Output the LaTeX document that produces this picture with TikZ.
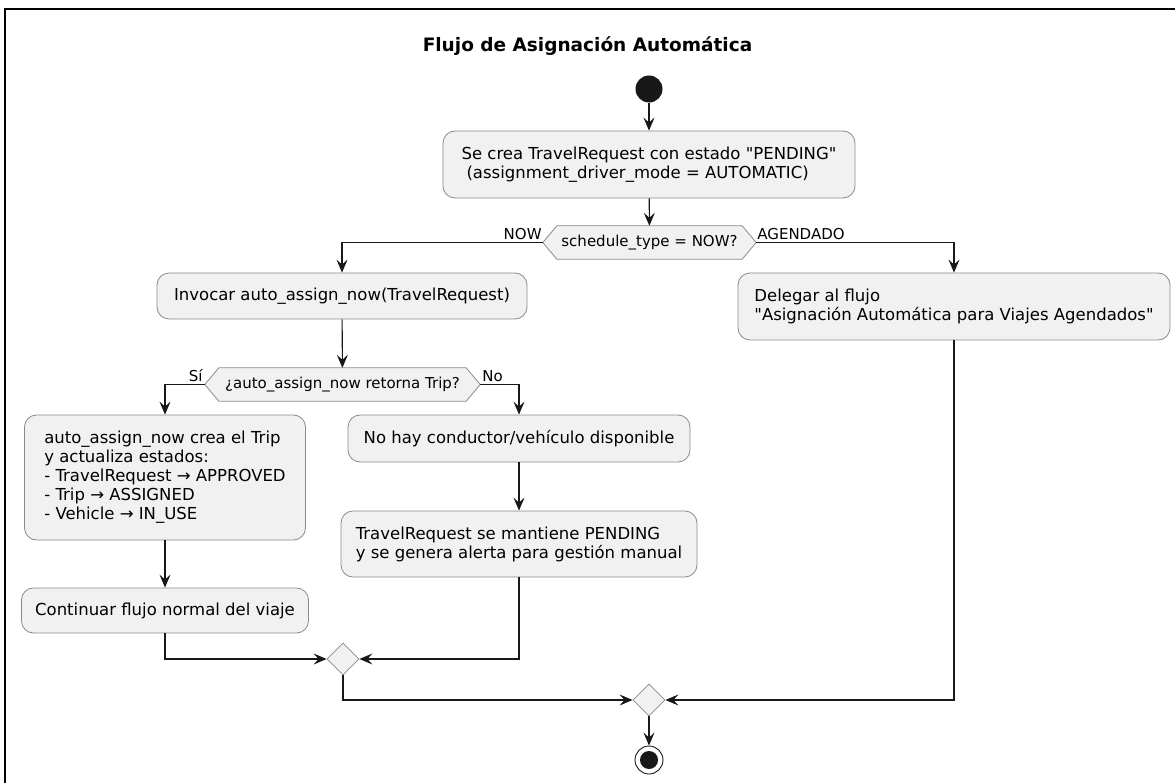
\documentclass[tikz,border=0pt]{standalone}
\usepackage{fontspec}
\setmainfont{DejaVu Sans}
\usetikzlibrary{arrows.meta,calc,shapes.geometric}
\pgfdeclarelayer{bg}
\pgfsetlayers{bg,main}
\definecolor{boxfill}{HTML}{F1F1F1}
\definecolor{ink}{HTML}{181818}
\definecolor{edge}{HTML}{8A8A8A}

\tikzset{
  act/.style={draw=edge, fill=boxfill, rounded corners=12pt, line width=0.8pt,
    align=left, inner sep=0pt, font=\fontsize{16.5}{19}\selectfont},
  dec/.style={inner sep=0pt, minimum height=33pt, font=\fontsize{15}{18}\selectfont},
  hexa/.style={draw=edge, fill=boxfill, line width=0.8pt},
  merge/.style={diamond, draw=edge, fill=boxfill, line width=0.8pt,
    minimum width=32pt, minimum height=32pt, inner sep=0pt},
  flow/.style={draw=ink, line width=1.1pt, -{Stealth[length=13pt,width=11pt,inset=5pt]}},
  lbl/.style={inner sep=0pt, font=\fontsize{15}{18}\selectfont},
  startdot/.style={circle, fill=ink, minimum size=27pt, inner sep=0pt},
  stopring/.style={circle, draw=ink, fill=white, line width=0.9pt, minimum size=28pt, inner sep=0pt},
  stopdot/.style={circle, fill=ink, minimum size=18pt, inner sep=0pt},
  frame/.style={draw=black, line width=2.5pt},
}

% hexagonal decision outline behind a decision text node
\newcommand{\decshape}[1]{%
  \coordinate (#1-l) at ($(#1.west)+(-14,0)$);
  \coordinate (#1-r) at ($(#1.east)+(14,0)$);
  \begin{pgfonlayer}{bg}
    \path[hexa] (#1-l) -- (#1.north west) -- (#1.north east) -- (#1-r)
      -- (#1.south east) -- (#1.south west) -- cycle;
  \end{pgfonlayer}}

\begin{document}
\begin{tikzpicture}[x=1pt,y=-1pt]
\useasboundingbox (0,0) rectangle (1175,783);
\begin{scope}
  \clip (0,0) rectangle (1175,783);
  \draw[frame] (5,800) -- (5,9) -- (1190,9);
\end{scope}

\node[font=\fontsize{18.5}{22}\selectfont\bfseries] (title) at (587.5,46) {Flujo de Asignación Automática};

\node[startdot] (start) at (649,89) {};

\node[act, minimum width=412pt, minimum height=67pt] (create) at (649,164.5)
  {Se crea TravelRequest con estado \textquotedbl PENDING\textquotedbl\\\hspace*{0.3em}(assignment\_driver\_mode = AUTOMATIC)};

\node[dec, minimum width=185pt] (d1) at (649.5,242.5) {schedule\_type = NOW?};
\decshape{d1}

\node[act, minimum width=370pt, minimum height=46pt] (invoke) at (342,296)
  {Invocar auto\_assign\_now(TravelRequest)};

\node[act, minimum width=432pt, minimum height=67pt] (delegate) at (954,306.5)
  {Delegar al flujo\\\textquotedbl Asignación Automática para Viajes Agendados\textquotedbl};

\node[dec, minimum width=247pt] (d2) at (342.5,384.5) {¿auto\_assign\_now retorna Trip?};
\decshape{d2}

\node[act, minimum width=281pt, minimum height=125pt] (created) at (165,477.5)
  {auto\_assign\_now crea el Trip\\y actualiza estados:\\- TravelRequest → APPROVED\\- Trip → ASSIGNED\\- Vehicle → IN\_USE};

\node[act, minimum width=342pt, minimum height=47pt] (nodriver) at (519,438.5)
  {No hay conductor/vehículo disponible};

\node[act, minimum width=356pt, minimum height=66pt] (pending) at (519,544)
  {TravelRequest se mantiene PENDING\\y se genera alerta para gestión manual};

\node[act, minimum width=287pt, minimum height=45pt] (continue) at (165,610.5)
  {Continuar flujo normal del viaje};

\node[merge] (m1) at (343,659) {};
\node[merge] (m2) at (649,700) {};

\node[stopring] (stop) at (649,760) {};
\node[stopdot] (stopc) at (stop) {};

% connectors
\draw[flow] (start) -- (create);
\draw[flow] (create) -- (d1);
\draw[flow] (d1-l) -| (invoke.north);
\draw[flow] (d1-r) -| (delegate.north);
\draw[flow] (invoke) -- (d2);
\draw[flow] (d2-l) -| (created.north);
\draw[flow] (d2-r) -| (nodriver.north);
\draw[flow] (created) -- (continue);
\draw[flow] (nodriver) -- (pending);
\draw[flow] (continue.south) |- (m1.west);
\draw[flow] (pending.south) |- (m1.east);
\draw[flow] (m1.south) |- (m2.west);
\draw[flow] (delegate.south) |- (m2.east);
\draw[flow] (m2) -- (stop);

% branch labels
\node[lbl, anchor=base east] (lnow) at ($(d1-l)+(-1,-3)$) {NOW};
\node[lbl, anchor=base west] (lsched) at ($(d1-r)+(1,-3)$) {AGENDADO};
\node[lbl, anchor=base east] (lyes) at ($(d2-l)+(-2,-3)$) {Sí};
\node[lbl, anchor=base west] (lno) at ($(d2-r)+(2,-3)$) {No};
\end{tikzpicture}
\end{document}
